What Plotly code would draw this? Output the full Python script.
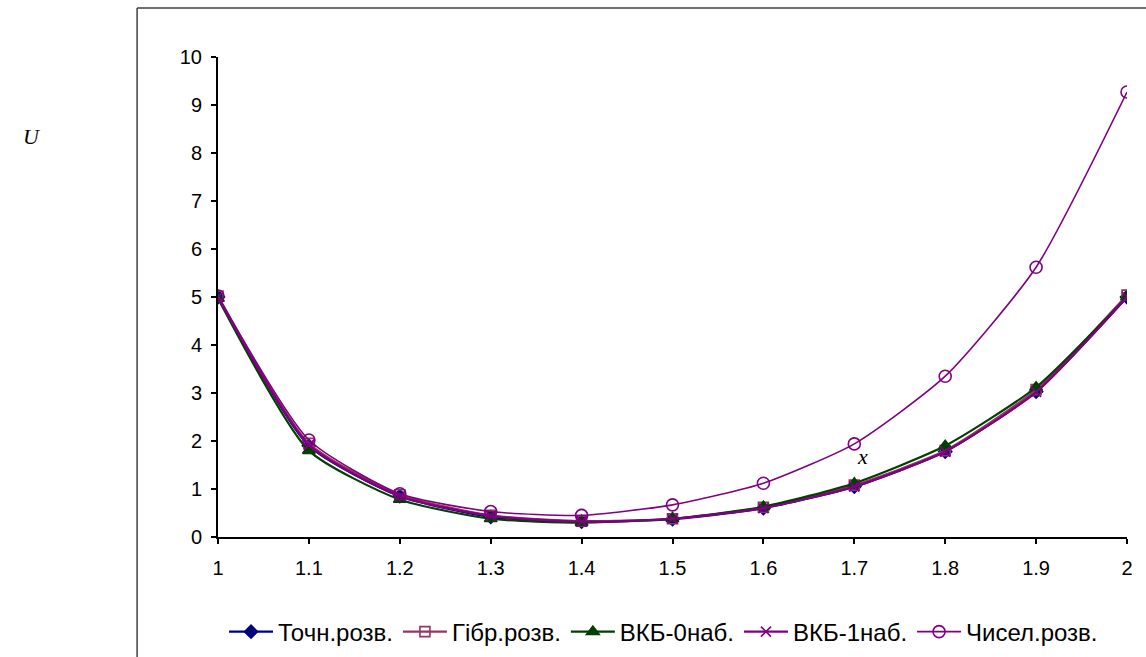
import plotly.graph_objects as go

x_vals = [1.0, 1.1, 1.2, 1.3, 1.4, 1.5, 1.6, 1.7, 1.8, 1.9, 2.0]
exact = [5.0, 1.90, 0.85, 0.42, 0.32, 0.37, 0.60, 1.05, 1.78, 3.03, 5.00]
hybrid = [5.02, 1.95, 0.88, 0.45, 0.33, 0.38, 0.62, 1.08, 1.80, 3.07, 5.04]
wkb0 = [4.97, 1.80, 0.78, 0.38, 0.30, 0.38, 0.63, 1.12, 1.90, 3.12, 5.00]
wkb1 = [5.0, 1.92, 0.85, 0.44, 0.32, 0.38, 0.60, 1.05, 1.78, 3.02, 5.00]
numeric = [5.02, 2.02, 0.90, 0.53, 0.45, 0.67, 1.12, 1.94, 3.35, 5.62, 9.27]

names = ["Точн.розв.", "Гібр.розв.", "ВКБ-0наб.", "ВКБ-1наб.", "Чисел.розв."]
x_ticks = [1, 1.1, 1.2, 1.3, 1.4, 1.5, 1.6, 1.7, 1.8, 1.9, 2]
x_tick_text = ["1", "1.1", "1.2", "1.3", "1.4", "1.5", "1.6", "1.7", "1.8", "1.9", "2"]

styles = [
    dict(color="#000080", symbol="diamond", size=10, width=2.2),
    dict(color="#993366", symbol="square-open", size=10, width=2.2),
    dict(color="#004000", symbol="triangle-up", size=11, width=2.2),
    dict(color="#800080", symbol="x-thin-open", size=10, width=2.2),
    dict(color="#800080", symbol="circle-open", size=12, width=1.6),
]
series = [exact, hybrid, wkb0, wkb1, numeric]

fig = go.Figure()
for name, ys, st in zip(names, series, styles):
    fig.add_trace(go.Scatter(
        x=x_vals, y=ys, name=name, mode="lines+markers",
        line=dict(color=st["color"], width=st["width"], shape="spline", smoothing=0.6),
        marker=dict(symbol=st["symbol"], size=st["size"], color=st["color"],
                    line=dict(color=st["color"], width=1.6)),
    ))

fig.update_layout(
    width=1146, height=657,
    margin=dict(l=218, r=19, t=57, b=120, autoexpand=False),
    paper_bgcolor="white", plot_bgcolor="white",
    font=dict(family="Liberation Sans, Arial, sans-serif", size=20, color="black"),
    showlegend=True,
    legend=dict(orientation="h", xref="container", yref="container",
                x=0.579, xanchor="center", y=0.038, yanchor="middle",
                font=dict(family="Liberation Sans, Arial, sans-serif", size=24),
                itemwidth=44, tracegroupgap=0),
    xaxis=dict(range=[1, 2], tickvals=x_ticks, ticktext=x_tick_text,
               tickfont=dict(size=20), ticklabelstandoff=7,
               showgrid=False, zeroline=False, showline=True, linecolor="black", linewidth=2,
               ticks="outside", ticklen=5, tickwidth=1.5, tickcolor="black"),
    yaxis=dict(range=[0, 10], dtick=1, showgrid=False, zeroline=False,
               tickfont=dict(size=20), ticklabelstandoff=5,
               showline=True, linecolor="black", linewidth=2,
               ticks="outside", ticklen=5, tickwidth=1.5, tickcolor="black"),
)

# outer chart frame (left and top edges visible)
fig.add_shape(type="line", xref="paper", yref="paper", x0=-0.089, x1=-0.089, y0=1.102, y1=-0.3,
              line=dict(color="#404040", width=1.5))
fig.add_shape(type="line", xref="paper", yref="paper", x0=-0.089, x1=1.05, y0=1.102, y1=1.102,
              line=dict(color="#404040", width=1.5))

fig.add_annotation(text="<i>U</i>", xref="paper", yref="paper", x=-0.217, y=0.865,
                   showarrow=False, font=dict(family="Liberation Serif, Times New Roman, serif", size=22))
fig.add_annotation(text="<i>x</i>", x=1.709, y=1.68, xref="x", yref="y",
                   showarrow=False, font=dict(family="Liberation Serif, Times New Roman, serif", size=22))

fig.write_html("out.html")
